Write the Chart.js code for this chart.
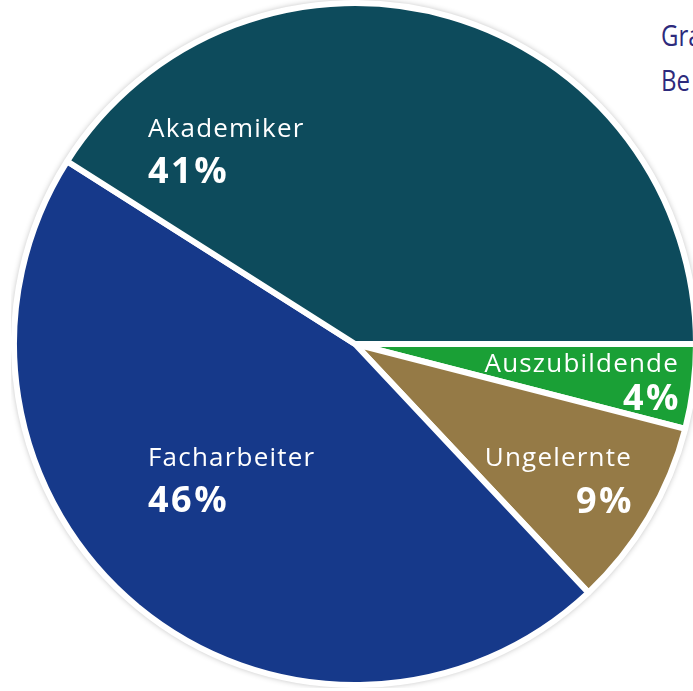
<!DOCTYPE html>
<html>
<head>
<meta charset="utf-8">
<script src="https://cdn.jsdelivr.net/npm/chart.js@4.4.1/dist/chart.umd.min.js"></script>
<style>
    html, body { margin: 0; padding: 0; background: #fff; width: 693px; height: 691px; overflow: hidden; }
    #pieBox { position: absolute; left: 11px; top: 0px; width: 688px; height: 688px; }
    .note { position: absolute; left: 661px; font-family: 'Open Sans', sans-serif; font-size: 30px; color: #2d2a7c; white-space: nowrap; transform: scaleX(0.8); transform-origin: left top; }
</style>
</head>
<body>
<div class="note" style="top: 14px;">Gra</div>
<div class="note" style="top: 59px;">Be</div>
<div id="pieBox"><canvas id="pieChart"></canvas></div>
<script>
// clockwise from 3 o'clock
var groups = ['Auszubildende', 'Ungelernte', 'Facharbeiter', 'Akademiker'];
var shares = [4, 9, 46, 41];
var colours = ['#1aa036', '#957a46', '#16398a', '#0d4b5c'];

// where the text of each slice sits (x, first baseline, gap to second line, alignment)
var labelSpots = [
    { x: 679, y: 372, gap: 38, align: 'right' },
    { x: 632, y: 466, gap: 47, align: 'right' },
    { x: 148, y: 466, gap: 46, align: 'left' },
    { x: 148, y: 137, gap: 46, align: 'left' }
];

var pieShadow = {
    id: 'pieShadow',
    beforeDatasetsDraw: function(chart) {
        var arc = chart.getDatasetMeta(0).data[0];
        var ctx = chart.ctx;
        ctx.save();
        ctx.shadowColor = 'rgba(0,0,0,0.3)';
        ctx.shadowBlur = 6;
        ctx.fillStyle = '#fff';
        ctx.beginPath();
        ctx.arc(arc.x, arc.y, arc.outerRadius + 2, 0, Math.PI * 2);
        ctx.fill();
        ctx.restore();
    }
};

var sliceText = {
    id: 'sliceText',
    afterDatasetsDraw: function(chart) {
        var ctx = chart.ctx;
        var box = chart.canvas.getBoundingClientRect();
        ctx.save();
        ctx.fillStyle = '#fff';
        ctx.textBaseline = 'alphabetic';
        for (var i = 0; i < groups.length; i++) {
            var spot = labelSpots[i];
            var x = spot.x - box.left;
            var y = spot.y - box.top;
            ctx.textAlign = spot.align;
            ctx.letterSpacing = '1.2px';
            ctx.font = '400 26px "Open Sans"';
            ctx.fillText(groups[i], x, y);
            ctx.letterSpacing = '2.5px';
            ctx.font = '700 36px "Open Sans"';
            ctx.fillText(shares[i] + '%', x + (spot.align == 'right' ? 2 : 0), y + spot.gap);
        }
        ctx.restore();
    }
};

var ctx = document.getElementById('pieChart');
var myChart = new Chart(ctx, {
    type: 'pie',
    data: {
        labels: groups,
        datasets: [{
            data: shares,
            backgroundColor: colours,
            borderColor: '#fff',
            borderWidth: 6
        }]
    },
    options: {
        responsive: true,
        maintainAspectRatio: false,
        animation: false,
        rotation: 90,
        layout: { padding: 0 },
        plugins: {
            legend: { display: false },
            tooltip: { enabled: false }
        }
    },
    plugins: [pieShadow, sliceText]
});
</script>
</body>
</html>
